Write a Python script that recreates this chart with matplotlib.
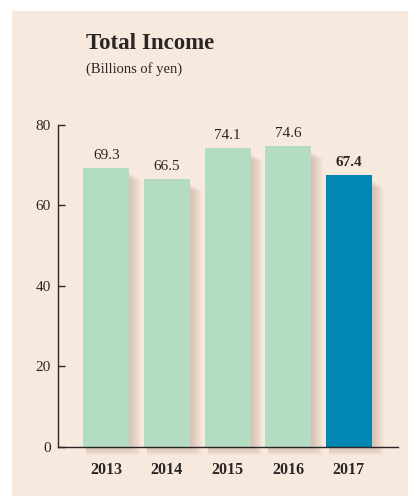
import matplotlib
matplotlib.use("Agg")
import matplotlib.pyplot as plt
from matplotlib.patches import Rectangle

years = ["2013", "2014", "2015", "2016", "2017"]
income = [69.3, 66.5, 74.1, 74.6, 67.4]
value_labels = ["69.3", "66.5", "74.1", "74.6", "67.4"]
yticks = [0, 20, 40, 60, 80]

plt.rcParams["font.family"] = ["Liberation Serif", "DejaVu Serif"]
text_color = "#2b2626"
bg = "#f8e9de"
light = "#b3dcc3"
dark = "#0088b3"

W, H = 408, 496
fig = plt.figure(figsize=(W / 100, H / 100), dpi=100, facecolor="white")
fig.patches.append(Rectangle((12 / W, 0), 1 - 12 / W, 1 - 11 / H,
                             transform=fig.transFigure, facecolor=bg,
                             edgecolor="none", zorder=-10))

ax = fig.add_axes([57.7 / W, 49 / H, (398 - 57.7) / W, (371.3 - 49) / H])
ax.set_facecolor("none")

x = list(range(len(years)))
bw = 0.757
colors = [light] * (len(years) - 1) + [dark]

# soft drop shadow to the right of each bar (px -> data: 60.7 px/unit in x, 4.03 px/unit in y)
for xi, v in zip(x, income):
    for k in range(12):
        dx = (k + 1) / 60.7
        dy = (k + 1) * 0.7 / 4.03
        ax.add_patch(Rectangle((xi - bw / 2 + 0.05, -dy),
                               bw - 0.05 + dx, v - 1.3 + dy - k * 0.15,
                               facecolor="#7a5a48", edgecolor="none",
                               alpha=0.025, zorder=1, clip_on=False))

ax.bar(x, income, width=bw, color=colors, zorder=3)

for xi, v, lab, c in zip(x, income, value_labels, colors):
    ax.text(xi, v + 1.5, lab, ha="center", va="bottom", fontsize=11,
            color=text_color, fontweight="bold" if c == dark else "normal",
            zorder=4)

ax.set_xlim(-0.8, 4.81)
ax.set_ylim(0, 80)
ax.set_yticks(yticks)
ax.set_xticks(x)
ax.set_xticklabels(years, fontweight="bold", fontsize=11.5, color=text_color)
ax.tick_params(axis="x", length=0, pad=11)
ax.tick_params(axis="y", direction="in", length=5, width=1, color=text_color,
               labelsize=11, labelcolor=text_color, pad=5)
for s in ["top", "right"]:
    ax.spines[s].set_visible(False)
for s in ["left", "bottom"]:
    ax.spines[s].set_color(text_color)
    ax.spines[s].set_linewidth(1)
    ax.spines[s].set_zorder(5)

fig.text(86 / W, 1 - 49.3 / H, "Total Income", fontsize=16.5, fontweight="bold",
         color=text_color, ha="left", va="baseline")
fig.text(86 / W, 1 - 72.7 / H, "(Billions of yen)", fontsize=10.5,
         color=text_color, ha="left", va="baseline")

fig.savefig("out.png", dpi=100, facecolor="white")
